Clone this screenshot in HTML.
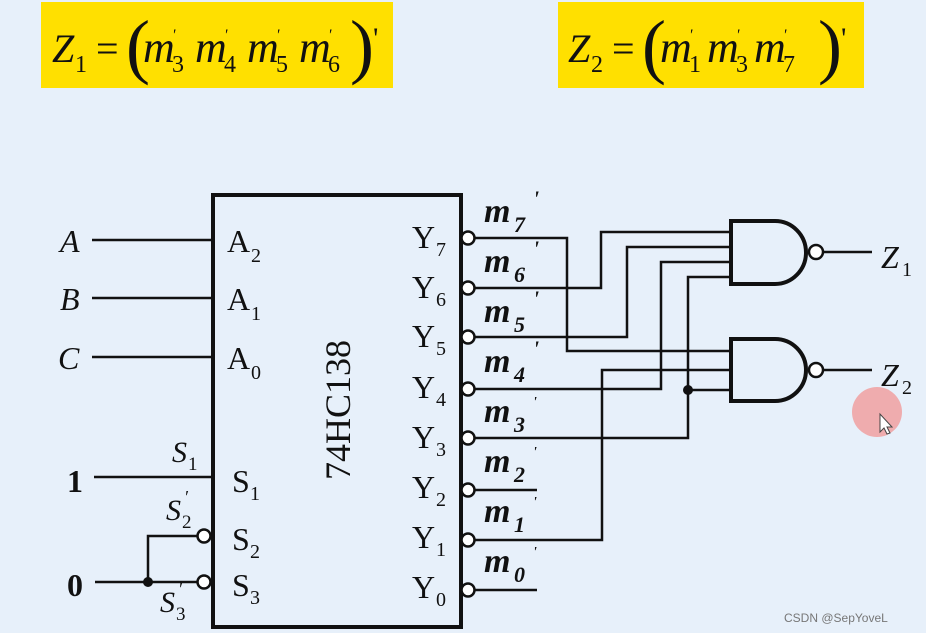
<!DOCTYPE html>
<html><head><style>
html,body{margin:0;padding:0;background:#e7f0fa;}
svg{display:block;}
text{font-family:"Liberation Serif",serif;fill:#111;}
</style></head><body>
<svg width="926" height="633" viewBox="0 0 926 633" xmlns="http://www.w3.org/2000/svg">
<rect width="926" height="633" fill="#e7f0fa"/>
<rect x="41" y="2" width="352" height="86" fill="#ffe000"/>
<rect x="558" y="2" width="306" height="86" fill="#ffe000"/>
<g font-style="italic">
<text x="52" y="62" font-size="40">Z</text><text x="75" y="72" font-size="24" font-style="normal">1</text>
<text x="96" y="62" font-size="40" font-style="normal">=</text>
<text x="126" y="70" font-size="72" font-style="normal">(</text>
<text x="143" y="62" font-size="44">m</text><text x="172" y="72" font-size="24" font-style="normal">3</text><text x="172" y="40" font-size="16">'</text>
<text x="195" y="62" font-size="44">m</text><text x="224" y="72" font-size="24" font-style="normal">4</text><text x="224" y="40" font-size="16">'</text>
<text x="247" y="62" font-size="44">m</text><text x="276" y="72" font-size="24" font-style="normal">5</text><text x="276" y="40" font-size="16">'</text>
<text x="299" y="62" font-size="44">m</text><text x="328" y="72" font-size="24" font-style="normal">6</text><text x="328" y="40" font-size="16">'</text>
<text x="350" y="70" font-size="72" font-style="normal">)</text>
<text x="373" y="48" font-size="30" font-style="normal">'</text>

<text x="568" y="62" font-size="40">Z</text><text x="591" y="72" font-size="24" font-style="normal">2</text>
<text x="612" y="62" font-size="40" font-style="normal">=</text>
<text x="642" y="70" font-size="72" font-style="normal">(</text>
<text x="660" y="62" font-size="44">m</text><text x="689" y="72" font-size="24" font-style="normal">1</text><text x="689" y="40" font-size="16">'</text>
<text x="707" y="62" font-size="44">m</text><text x="736" y="72" font-size="24" font-style="normal">3</text><text x="736" y="40" font-size="16">'</text>
<text x="754" y="62" font-size="44">m</text><text x="783" y="72" font-size="24" font-style="normal">7</text><text x="783" y="40" font-size="16">'</text>
<text x="818" y="70" font-size="72" font-style="normal">)</text>
<text x="841" y="48" font-size="30" font-style="normal">'</text>
</g>

<g stroke="#111" fill="none">
<rect x="213" y="195" width="248" height="432" stroke-width="4"/>
<g stroke-width="2.5">
<line x1="92" y1="240" x2="213" y2="240"/>
<line x1="92" y1="298" x2="213" y2="298"/>
<line x1="92" y1="357" x2="213" y2="357"/>
<line x1="94" y1="477" x2="213" y2="477"/>
<line x1="95" y1="582" x2="197" y2="582"/>
<polyline points="148,582 148,536 197,536"/>
<polyline points="475,238 567,238 567,351 730,351"/>
<polyline points="475,288 601,288 601,232 730,232"/>
<polyline points="475,337 627,337 627,247 730,247"/>
<polyline points="475,389 661,389 661,262 730,262"/>
<polyline points="475,438 688,438 688,277 730,277"/>
<line x1="688" y1="390" x2="730" y2="390"/>
<polyline points="475,540 602,540 602,370 730,370"/>
<line x1="475" y1="490" x2="537" y2="490"/>
<line x1="475" y1="590" x2="537" y2="590"/>
<line x1="824" y1="252" x2="872" y2="252"/>
<line x1="824" y1="370" x2="872" y2="370"/>
</g>
<g stroke-width="2.5" fill="#fff">
<circle cx="468" cy="238" r="6.5"/><circle cx="468" cy="288" r="6.5"/>
<circle cx="468" cy="337" r="6.5"/><circle cx="468" cy="389" r="6.5"/>
<circle cx="468" cy="438" r="6.5"/><circle cx="468" cy="490" r="6.5"/>
<circle cx="468" cy="540" r="6.5"/><circle cx="468" cy="590" r="6.5"/>
<circle cx="204" cy="536" r="6.5"/><circle cx="204" cy="582" r="6.5"/>
<circle cx="816" cy="252" r="7"/><circle cx="816" cy="370" r="7"/>
</g>
<g stroke-width="4" fill="none">
<path d="M731,221 H775 A31,31.5 0 0 1 775,284 H731 Z"/>
<path d="M731,339 H775 A31,31 0 0 1 775,401 H731 Z"/>
</g>
</g>
<circle cx="148" cy="582" r="5" fill="#111"/>
<circle cx="688" cy="390" r="5" fill="#111"/>

<g font-size="32" font-style="italic">
<text x="60" y="252">A</text><text x="60" y="310">B</text><text x="58" y="369">C</text>
<text x="881" y="268">Z</text><text x="881" y="386">Z</text>
</g>
<text x="902" y="276" font-size="20">1</text><text x="902" y="394" font-size="20">2</text>
<text x="67" y="492" font-size="32" font-weight="bold">1</text>
<text x="67" y="596" font-size="32" font-weight="bold">0</text>
<g font-size="32">
<text x="227" y="252">A</text><text x="251" y="262" font-size="20">2</text>
<text x="227" y="310">A</text><text x="251" y="320" font-size="20">1</text>
<text x="227" y="369">A</text><text x="251" y="379" font-size="20">0</text>
<text x="232" y="492">S</text><text x="250" y="500" font-size="20">1</text>
<text x="232" y="550">S</text><text x="250" y="558" font-size="20">2</text>
<text x="232" y="596">S</text><text x="250" y="604" font-size="20">3</text>
<text x="412" y="248">Y</text><text x="436" y="256" font-size="20">7</text>
<text x="412" y="298">Y</text><text x="436" y="306" font-size="20">6</text>
<text x="412" y="347">Y</text><text x="436" y="355" font-size="20">5</text>
<text x="412" y="398">Y</text><text x="436" y="406" font-size="20">4</text>
<text x="412" y="448">Y</text><text x="436" y="456" font-size="20">3</text>
<text x="412" y="498">Y</text><text x="436" y="506" font-size="20">2</text>
<text x="412" y="548">Y</text><text x="436" y="556" font-size="20">1</text>
<text x="412" y="598">Y</text><text x="436" y="606" font-size="20">0</text>
</g>
<g font-size="30" font-style="italic">
<text x="172" y="462">S</text><text x="188" y="470" font-size="19" font-style="normal">1</text>
<text x="166" y="520">S</text><text x="182" y="528" font-size="19" font-style="normal">2</text><text x="184" y="503" font-size="18">′</text>
<text x="160" y="612">S</text><text x="176" y="620" font-size="19" font-style="normal">3</text><text x="178" y="595" font-size="18">′</text>
</g>
<g font-size="34" font-style="italic" font-weight="bold">
<text x="484" y="222">m</text><text x="514" y="232" font-size="22">7</text><text x="533" y="206" font-size="22">'</text>
<text x="484" y="272">m</text><text x="514" y="282" font-size="22">6</text><text x="533" y="256" font-size="22">'</text>
<text x="484" y="322">m</text><text x="514" y="332" font-size="22">5</text><text x="533" y="306" font-size="22">'</text>
<text x="484" y="372">m</text><text x="514" y="382" font-size="22">4</text><text x="533" y="356" font-size="22">'</text>
<text x="484" y="422">m</text><text x="514" y="432" font-size="22">3</text><text x="533" y="406" font-size="14">'</text>
<text x="484" y="472">m</text><text x="514" y="482" font-size="22">2</text><text x="533" y="456" font-size="14">'</text>
<text x="484" y="522">m</text><text x="514" y="532" font-size="22">1</text><text x="533" y="506" font-size="14">'</text>
<text x="484" y="572">m</text><text x="514" y="582" font-size="22">0</text><text x="533" y="556" font-size="14">'</text>
</g>
<text x="0" y="0" font-size="36" transform="translate(350,410) rotate(-90)" text-anchor="middle">74HC138</text>

<circle cx="877" cy="412" r="25" fill="#f0a0a0" opacity="0.85"/>
<path d="M880,414 l0,18 l4,-4 l3,6 l3,-1 l-3,-6 l5,0 z" fill="#fff" stroke="#444" stroke-width="1"/>
<text x="784" y="622" font-size="12" style="font-family:'Liberation Sans',sans-serif;fill:#777">CSDN @SepYoveL</text>
</svg>
</body></html>
